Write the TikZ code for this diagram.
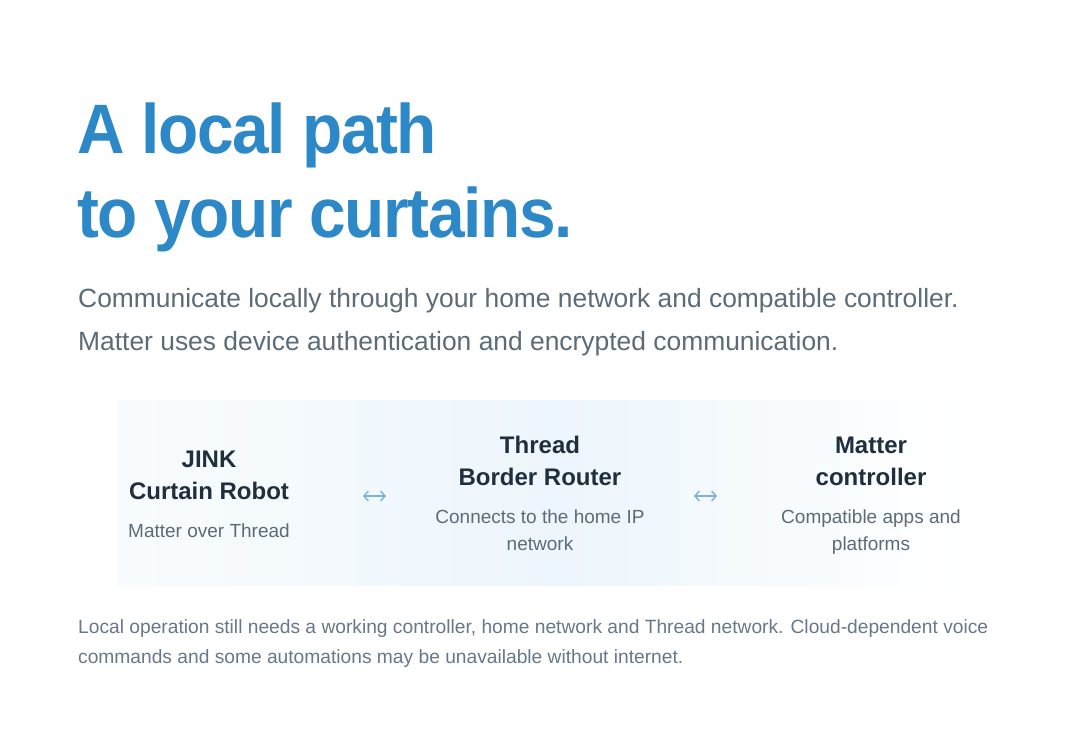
\documentclass[tikz,border=0pt]{standalone}
\usepackage{fontspec}
\usepackage{graphicx}
\setmainfont{Liberation Sans}
\newfontfamily\titlefont{Liberation Sans}[LetterSpace=-2.2]
\usetikzlibrary{arrows.meta}
\definecolor{titleblue}{HTML}{2C88C6}
\definecolor{subgrey}{HTML}{5B6B78}
\definecolor{footgrey}{HTML}{66788A}
\definecolor{headdark}{HTML}{1F2F3D}
\definecolor{arrowblue}{HTML}{7AB4D4}
\definecolor{panelmid}{HTML}{EDF6FC}
\definecolor{paneledge}{HTML}{F9FCFE}
\newcommand{\titleline}[1]{\scalebox{0.94}[1]{\titlefont\bfseries #1}}
\tikzset{
  titletxt/.style={anchor=base west, inner sep=0pt, text=titleblue, font=\fontsize{70}{84}\selectfont},
  subtxt/.style={anchor=base west, inner sep=0pt, text=subgrey, font=\fontsize{26.4}{43}\selectfont},
  foottxt/.style={anchor=base west, inner sep=0pt, text=footgrey, font=\fontsize{19.2}{30}\selectfont},
  headtxt/.style={anchor=base, inner sep=0pt, text=headdark, font=\fontsize{24}{32}\selectfont\bfseries},
  desctxt/.style={anchor=base, inner sep=0pt, text=subgrey, font=\fontsize{19}{27}\selectfont},
  link/.style={draw=arrowblue, line width=1.4pt, {Straight Barb[length=4.5pt,width=10pt]}-{Straight Barb[length=4.5pt,width=10pt]}},
}
\begin{document}
\begin{tikzpicture}[x=1pt,y=-1pt]
\useasboundingbox[fill=white] (0,0) rectangle (1080,744);
% panel
\shade[left color=paneledge, right color=panelmid] (118,400) rectangle (560,585);
\shade[left color=panelmid, right color=white] (560,400) rectangle (965,585);
% title
\node[titletxt] (t1) at (77,153) {\titleline{A local path}};
\node[titletxt] (t2) at (77,237) {\titleline{to your curtains.}};
% subtitle
\node[subtxt] (s1) at (78,307) {Communicate locally through your home network and compatible controller.};
\node[subtxt] (s2) at (78,350) {Matter uses device authentication and encrypted communication.};
% column 1
\node[headtxt] (j1) at (209,467) {JINK};
\node[headtxt] (j2) at (209,499) {Curtain Robot};
\node[desctxt] (j3) at (209,537) {Matter over Thread};
% column 2
\node[headtxt] (b1) at (540,453) {Thread};
\node[headtxt] (b2) at (540,485) {Border Router};
\node[desctxt] (b3) at (540,523) {Connects to the home IP};
\node[desctxt] (b4) at (540,550) {network};
% column 3
\node[headtxt] (m1) at (871,453) {Matter};
\node[headtxt] (m2) at (871,485) {controller};
\node[desctxt] (m3) at (871,523) {Compatible apps and};
\node[desctxt] (m4) at (871,550) {platforms};
% arrows
\coordinate (a1l) at (363,496);
\coordinate (a1r) at (386,496);
\coordinate (a2l) at (694,496);
\coordinate (a2r) at (717,496);
\draw[link] (a1l) -- (a1r);
\draw[link] (a2l) -- (a2r);
% footnote
\node[foottxt] (f1) at (78,633) {Local operation still needs a working controller, home network and Thread network. Cloud-dependent voice};
\node[foottxt] (f2) at (78,663) {commands and some automations may be unavailable without internet.};
\end{tikzpicture}
\end{document}
